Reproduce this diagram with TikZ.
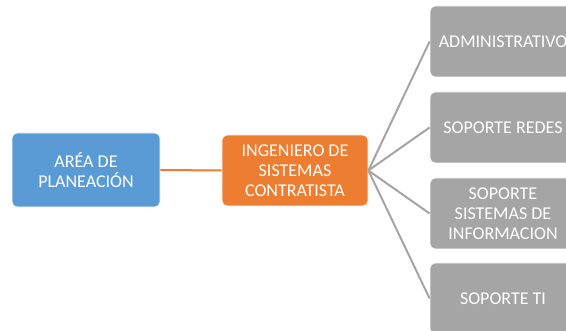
\documentclass[tikz,border=0pt]{standalone}
\usepackage{fontspec}
\setmainfont{Carlito}
\definecolor{cblue}{HTML}{5B9BD5}
\definecolor{corange}{HTML}{ED7D31}
\definecolor{cgray}{HTML}{A5A5A5}
\begin{document}
\begin{tikzpicture}[x=1pt,y=-1pt,
  box/.style={draw=white,line width=0.8pt,rounded corners=5pt,text=white,align=center,inner sep=0pt,
    font=\fontsize{18}{20}\selectfont},
  bluebox/.style={box,fill=cblue,minimum width=148pt,minimum height=74pt},
  orangebox/.style={box,fill=corange,minimum width=146pt,minimum height=71pt},
  graybox/.style={box,fill=cgray,minimum width=146pt,minimum height=71pt},
  conn/.style={draw=cgray,line width=2pt},
  oconn/.style={draw=corange,line width=2pt}]
\clip (0,0) rectangle (566,331);
\fill[white] (0,0) rectangle (566,331);
\node[bluebox] (area) at (86,170) {ARÉA DE\\PLANEACIÓN};
\node[orangebox] (ing) at (295,170.5) {INGENIERO DE\\SISTEMAS\\CONTRATISTA};
\node[graybox] (adm) at (503,41.5) {ADMINISTRATIVO};
\node[graybox] (red) at (503,127.5) {SOPORTE REDES};
\node[graybox] (inf) at (503,213.5) {SOPORTE\\SISTEMAS DE\\INFORMACION};
\node[graybox] (ti) at (503,298.5) {SOPORTE TI};
\draw[oconn] (area.east) -- (ing.west);
\draw[conn] (ing.east) -- (adm.west);
\draw[conn] (ing.east) -- (red.west);
\draw[conn] (ing.east) -- (inf.west);
\draw[conn] (ing.east) -- (ti.west);
\end{tikzpicture}
\end{document}
